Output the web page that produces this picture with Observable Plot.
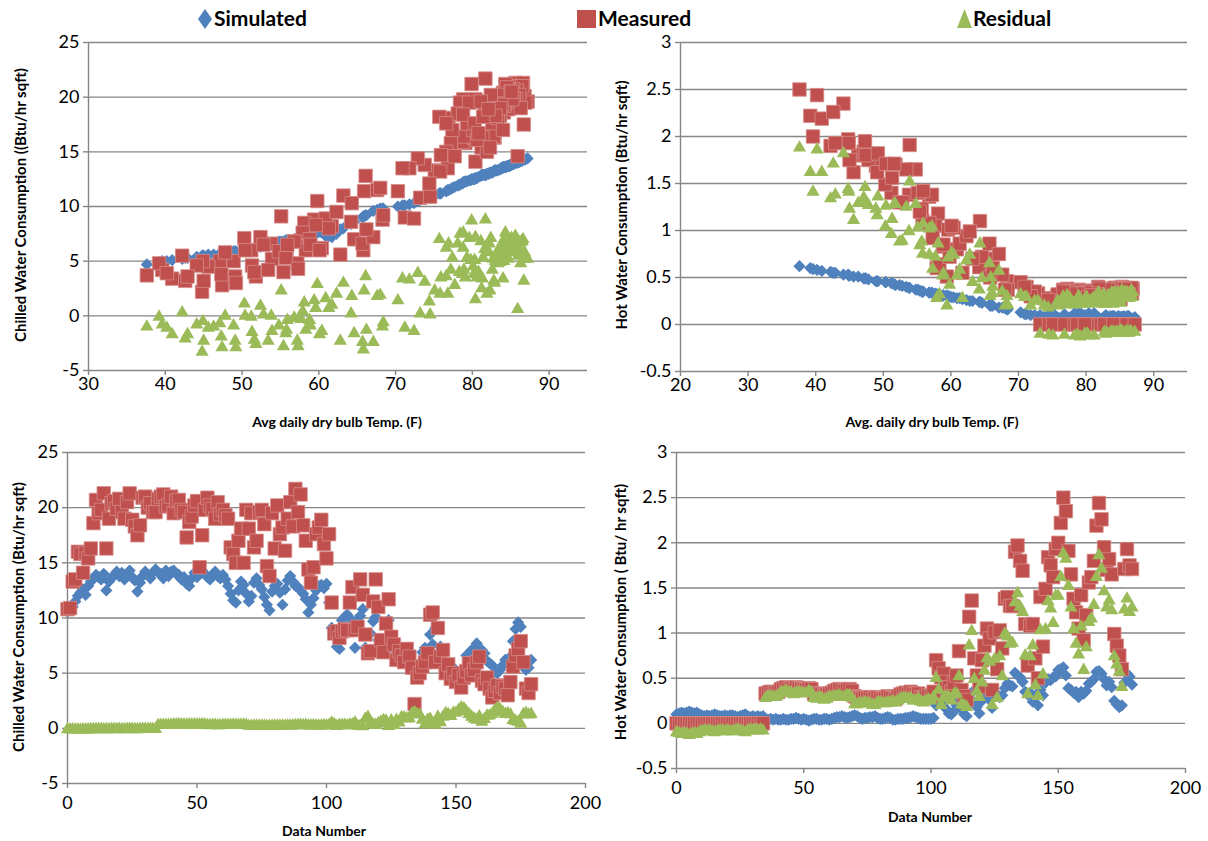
<!DOCTYPE html>
<html><head><meta charset="utf-8">
<script src="https://cdn.jsdelivr.net/npm/d3@7"></script>
<script src="https://cdn.jsdelivr.net/npm/@observablehq/plot@0.6"></script>
<style>
body{margin:0;background:#fff;}
#root{position:relative;width:1208px;height:841px;overflow:hidden;font-family:Lato,sans-serif;color:#000;}
.xt{position:absolute;font-weight:bold;font-size:14px;transform:translate(-50%,-50%);white-space:nowrap;}
.yt{position:absolute;font-weight:bold;font-size:15px;transform:translate(-50%,-50%) rotate(-90deg);white-space:nowrap;}
.legtxt{position:absolute;font-weight:bold;font-size:21px;line-height:16px;height:16px;white-space:nowrap;}
.legsym{position:absolute;}
</style></head>
<body><div id="root"></div>
<script>
// ---- data (one value per day, index = Data Number) ----
const avgTemp = [
73.2,74.5,75.1,76.8,78.3,79.1,80.4,78.7,81.2,82.9,
84.1,85.3,84.8,83.7,85.6,80.2,83.1,84.4,85.2,86.3,
85.0,86.1,83.9,85.4,86.6,84.7,83.6,79.8,82.7,85.1,
86.4,85.2,84.0,86.0,87.2,86.2,85.5,84.3,86.8,84.9,
86.5,86.9,85.8,85.3,83.8,84.6,82.6,81.8,84.2,86.1,
84.8,85.9,86.7,85.7,84.5,83.9,85.4,86.3,85.0,84.1,
85.2,83.8,81.6,78.9,77.2,76.6,80.1,83.3,81.9,78.8,
76.9,78.4,82.8,84.0,82.2,80.4,78.1,75.9,73.8,79.6,
81.3,82.4,79.3,75.7,80.6,83.6,85.1,83.0,81.7,81.1,
79.9,78.8,77.4,72.9,75.8,77.7,80.3,81.4,82.1,80.8,
82.3,76.6,65.9,64.2,59.4,61.7,68.3,71.2,72.4,70.3,
66.1,60.9,68.4,71.8,74.4,58.1,56.8,64.6,67.6,70.9,
63.2,61.3,57.7,62.3,68.0,59.6,57.9,60.4,58.8,53.8,
51.2,52.4,52.8,42.2,44.8,46.3,48.9,55.8,58.3,56.8,
64.3,59.8,65.8,55.1,58.9,50.3,47.1,47.8,45.6,44.9,
39.6,39.2,37.6,44.1,53.9,54.8,57.2,55.7,60.1,55.9,
57.3,55.4,51.3,49.1,47.4,40.9,40.2,42.6,47.3,51.8,
49.2,53.4,62.8,65.7,67.1,66.2,50.4,42.9,45.0,51.6];

const chwSimulated = [
10.6,10.8,11.0,11.5,12.0,12.3,12.6,12.1,12.9,13.3,
13.6,13.9,13.7,13.5,14.0,12.5,13.3,13.6,13.9,14.2,
13.8,14.1,13.5,13.9,14.3,13.7,13.4,12.4,13.2,13.8,
14.2,13.9,13.6,14.1,14.4,14.1,14.0,13.6,14.3,13.8,
14.2,14.3,14.0,13.9,13.5,13.7,13.1,12.9,13.6,14.1,
13.7,14.0,14.3,14.0,13.7,13.5,13.9,14.2,13.8,13.6,
13.9,13.5,12.9,12.2,11.6,11.4,12.5,13.3,13.0,12.2,
11.5,12.0,13.2,13.6,13.0,12.6,11.9,11.2,10.7,12.4,
12.9,13.1,12.3,11.2,12.6,13.4,13.8,13.3,12.9,12.8,
12.5,12.2,11.7,10.5,11.2,11.8,12.5,12.9,13.0,12.7,
13.1,11.4,9.1,8.4,7.4,7.2,9.8,10.1,10.3,10.0,
9.2,7.3,9.8,10.2,10.8,7.3,7.0,8.6,9.7,10.1,
8.0,7.3,7.2,7.5,9.8,7.6,7.2,7.6,7.4,6.6,
6.1,6.3,6.4,5.2,5.5,5.6,5.9,6.9,7.3,7.0,
8.5,7.6,9.1,6.8,7.4,6.0,5.7,5.8,5.6,5.5,
5.0,4.9,4.7,5.4,6.6,6.8,7.1,6.9,7.7,6.9,
7.1,6.8,6.1,5.9,5.7,5.1,5.0,5.3,5.7,6.2,
5.9,6.5,7.9,9.0,9.6,9.2,6.0,5.3,5.5,6.2];

const chwMeasured = [
10.8,10.9,13.3,13.5,16.0,15.8,14.1,15.9,15.4,16.3,
18.6,20.7,19.5,19.8,21.3,16.3,19.0,20.4,20.6,19.9,
20.8,19.6,19.0,20.5,21.3,18.9,18.3,17.5,18.4,20.9,
21.0,20.0,20.4,19.6,19.6,20.8,21.0,21.2,20.1,20.2,
21.0,19.5,20.6,20.7,19.8,19.6,17.3,18.7,19.2,20.2,
20.6,14.6,17.5,19.8,20.9,20.2,19.9,19.0,20.5,19.4,
19.8,19.3,19.0,16.4,15.8,15.0,17.0,18.1,15.0,19.8,
18.1,19.5,16.4,17.0,19.6,19.8,18.5,14.7,13.8,19.5,
16.3,20.2,17.6,18.2,16.1,19.0,20.5,18.3,21.7,19.6,
21.2,18.4,17.0,14.4,13.2,14.6,17.6,18.2,18.9,16.7,
15.4,17.6,11.4,8.6,8.8,8.2,8.8,9.0,8.9,11.4,
12.8,8.9,9.2,13.5,12.1,8.5,6.8,7.0,11.5,13.5,
11.0,8.0,6.9,9.5,11.7,8.3,7.6,6.2,7.0,6.6,
6.0,7.2,6.5,5.5,2.2,4.6,5.0,5.6,6.0,6.8,
10.3,10.5,6.0,9.1,6.5,7.1,5.0,5.8,4.5,5.0,
4.2,4.8,3.7,4.6,5.2,5.9,4.8,5.3,6.0,6.5,
4.3,4.0,4.6,3.6,2.8,3.4,3.9,3.2,3.8,3.6,
3.0,4.2,5.6,6.6,7.2,7.9,6.0,3.6,3.2,4.0];

const chwResidual = [
0.2,0.1,2.3,2.0,4.0,3.5,1.5,3.8,2.5,3.0,
5.0,6.8,5.8,6.3,7.3,3.8,5.7,6.8,6.7,5.7,
7.0,5.5,5.5,6.6,7.0,5.2,4.9,5.1,5.2,7.1,
6.8,6.1,6.8,5.5,5.2,6.7,7.0,7.6,5.8,6.4,
6.8,5.2,6.6,6.8,6.3,5.9,4.2,5.8,5.6,6.1,
6.9,0.6,3.2,5.8,7.2,6.7,6.0,4.8,6.7,5.8,
5.9,5.8,6.1,4.2,4.2,3.6,4.5,4.8,2.0,7.6,
6.6,7.5,3.2,3.4,6.6,7.2,6.6,3.5,3.1,7.1,
3.4,7.1,5.3,7.0,3.5,5.6,6.7,5.0,8.8,6.8,
8.7,6.2,5.3,3.9,2.0,2.8,5.1,5.3,5.9,4.0,
2.3,6.2,2.3,0.2,1.4,1.0,-1.0,-1.1,-1.4,1.4,
3.6,1.6,-0.6,3.3,1.3,1.2,-0.2,-1.6,1.8,3.4,
3.0,0.7,-0.3,2.0,1.9,0.7,0.4,-1.4,-0.4,0.0,
-0.1,0.9,0.1,0.3,-3.3,-1.0,-0.9,-1.3,-1.3,-0.2,
1.8,2.9,-3.1,2.3,-0.9,1.1,-0.7,0.0,-1.1,-0.5,
-0.8,-0.1,-1.0,-0.8,-1.4,-0.9,-2.3,-1.6,-1.7,-0.4,
-2.8,-2.8,-1.5,-2.3,-2.9,-1.7,-1.1,-2.1,-1.9,-2.6,
-2.9,-2.3,-2.3,-2.4,-2.4,-1.3,0.0,-1.7,-2.3,-2.2];

const hwSimulated = [
0.10,0.11,0.12,0.11,0.12,0.13,0.12,0.11,0.12,0.10,
0.09,0.08,0.09,0.08,0.09,0.10,0.09,0.08,0.08,0.09,
0.08,0.09,0.09,0.08,0.07,0.08,0.09,0.10,0.08,0.07,
0.08,0.07,0.08,0.07,0.08,0.05,0.04,0.05,0.04,0.05,
0.04,0.04,0.05,0.04,0.04,0.05,0.05,0.06,0.05,0.04,
0.05,0.04,0.03,0.04,0.05,0.05,0.04,0.04,0.05,0.05,
0.04,0.05,0.06,0.07,0.07,0.08,0.07,0.06,0.07,0.08,
0.09,0.08,0.06,0.05,0.06,0.06,0.07,0.07,0.08,0.06,
0.05,0.05,0.06,0.07,0.06,0.04,0.04,0.05,0.05,0.05,
0.06,0.06,0.07,0.08,0.07,0.06,0.05,0.05,0.05,0.05,
0.05,0.06,0.20,0.24,0.31,0.27,0.16,0.11,0.10,0.13,
0.20,0.28,0.16,0.10,0.08,0.32,0.34,0.23,0.18,0.11,
0.25,0.28,0.33,0.26,0.17,0.30,0.32,0.29,0.31,0.39,
0.44,0.42,0.41,0.56,0.53,0.51,0.46,0.35,0.32,0.34,
0.24,0.30,0.20,0.37,0.31,0.45,0.49,0.48,0.51,0.52,
0.59,0.60,0.62,0.53,0.39,0.37,0.34,0.35,0.29,0.35,
0.33,0.36,0.44,0.46,0.49,0.57,0.58,0.55,0.49,0.42,
0.46,0.40,0.25,0.21,0.18,0.20,0.45,0.55,0.52,0.43];

const hwMeasured = [
0,0,0,0,0,0,0,0,0,0,
0,0,0,0,0,0,0,0,0,0,
0,0,0,0,0,0,0,0,0,0,
0,0,0,0,0,0.33,0.34,0.35,0.33,0.34,
0.35,0.38,0.39,0.40,0.38,0.39,0.37,0.40,0.39,0.38,
0.38,0.37,0.39,0.38,0.33,0.32,0.33,0.32,0.31,0.32,
0.33,0.34,0.36,0.37,0.38,0.37,0.36,0.37,0.38,0.36,
0.30,0.29,0.28,0.27,0.29,0.28,0.29,0.27,0.28,0.29,
0.28,0.27,0.28,0.30,0.29,0.28,0.27,0.30,0.32,0.33,
0.34,0.33,0.35,0.33,0.32,0.33,0.29,0.28,0.30,0.31,
0.30,0.35,0.70,0.61,0.51,0.55,0.46,0.40,0.35,0.45,
0.53,0.80,0.37,0.30,0.26,1.18,1.36,0.72,0.53,0.40,
0.70,0.86,1.05,0.94,0.37,1.01,0.60,1.03,0.83,1.38,
1.40,1.30,1.30,1.90,1.97,1.80,1.69,1.10,0.64,1.08,
1.10,0.72,0.50,1.40,0.85,1.49,1.84,1.75,1.62,1.93,
2.00,2.22,2.50,2.35,1.91,1.65,1.38,1.23,1.05,1.42,
0.92,1.20,1.56,1.62,1.80,2.19,2.44,2.26,1.95,1.70,
1.82,1.65,0.99,0.86,0.75,0.60,1.71,1.93,1.75,1.71];

const hwResidual = [
-0.10,-0.11,-0.12,-0.11,-0.12,-0.13,-0.12,-0.11,-0.12,-0.10,
-0.09,-0.08,-0.09,-0.08,-0.09,-0.10,-0.09,-0.08,-0.08,-0.09,
-0.08,-0.09,-0.09,-0.08,-0.07,-0.08,-0.09,-0.10,-0.08,-0.07,
-0.08,-0.07,-0.08,-0.07,-0.08,0.28,0.30,0.30,0.29,0.29,
0.31,0.34,0.34,0.36,0.34,0.34,0.32,0.34,0.34,0.34,
0.33,0.33,0.36,0.34,0.28,0.27,0.29,0.28,0.26,0.27,
0.29,0.29,0.30,0.30,0.31,0.29,0.29,0.31,0.31,0.28,
0.21,0.21,0.22,0.22,0.23,0.22,0.22,0.20,0.20,0.23,
0.23,0.22,0.22,0.23,0.23,0.24,0.23,0.25,0.27,0.28,
0.28,0.27,0.28,0.25,0.25,0.27,0.24,0.23,0.25,0.26,
0.25,0.29,0.50,0.37,0.20,0.28,0.30,0.29,0.25,0.32,
0.33,0.52,0.21,0.20,0.18,0.86,1.02,0.49,0.35,0.29,
0.45,0.58,0.72,0.68,0.20,0.71,0.28,0.74,0.52,0.99,
0.96,0.88,0.89,1.34,1.44,1.29,1.23,0.75,0.32,0.74,
0.86,0.42,0.30,1.03,0.54,1.04,1.35,1.27,1.11,1.41,
1.41,1.62,1.88,1.82,1.52,1.28,1.04,0.88,0.76,1.07,
0.59,0.84,1.12,1.16,1.31,1.62,1.86,1.71,1.46,1.28,
1.36,1.25,0.74,0.65,0.57,0.40,1.26,1.38,1.23,1.28];

// ---- ticks / labels ----
const seriesNames = ["Simulated", "Measured", "Residual"];
const tempTicksChw = [30,40,50,60,70,80,90];
const tempTicksHw = [20,30,40,50,60,70,80,90];
const dataNumberTicks = [0,50,100,150,200];
const chwTicks = [-5,0,5,10,15,20,25];
const hwTicks = [-0.5,0,0.5,1,1.5,2,2.5,3];

const BLUE = "#4F81BD", RED = "#C0504D", GREEN = "#9BBB59", GRID = "#868686";
const root = document.getElementById("root");

function panel(o) {
  const mL = 80, mT = 12, mR = 12, mB = 40;
  const xs = o.x;
  const svg = Plot.plot({
    width: o.px1 - o.px0 + mL + mR,
    height: o.py1 - o.py0 + mT + mB,
    marginLeft: mL, marginTop: mT, marginRight: mR, marginBottom: mB,
    style: {fontFamily: "Lato, sans-serif", fontSize: "18px", color: "#000", background: "transparent", overflow: "visible"},
    x: {domain: o.xDomain},
    y: {domain: o.yDomain},
    marks: [
      Plot.gridY(o.yTicks, {stroke: GRID, strokeOpacity: 1, strokeWidth: 1.4}),
      Plot.ruleX([o.xDomain[0]], {stroke: GRID, strokeWidth: 1.4}),
      Plot.axisY(o.yTicks, {tickSize: 5, tickPadding: 4, stroke: GRID, strokeWidth: 1.4, tickFormat: d => String(d), label: null}),
      Plot.axisX(o.xTicks, {tickSize: 5, tickPadding: o.xPad, stroke: GRID, strokeWidth: 1.4, tickFormat: d => String(d), label: null}),
      Plot.dot(o.sim, {x: (d, i) => xs(i), y: d => d, symbol: "diamond2", r: 5.5, fill: BLUE, stroke: "none"}),
      Plot.dot(o.meas, {x: (d, i) => xs(i), y: d => d, symbol: "square", r: 7.6, fill: RED, stroke: "#D68B89", strokeWidth: 0.8}),
      Plot.dot(o.res, {x: (d, i) => xs(i), y: d => d, symbol: "triangle", r: 4.9, fill: GREEN, stroke: "none"})
    ]
  });
  svg.style.position = "absolute";
  svg.style.left = (o.px0 - mL) + "px";
  svg.style.top = (o.py0 - mT) + "px";
  root.appendChild(svg);
}

const byTemp = i => avgTemp[i];
const byIndex = i => i;

panel({px0: 88, px1: 587, py0: 42, py1: 370, xDomain: [30, 95], yDomain: [-5, 25], xTicks: tempTicksChw, yTicks: chwTicks, xPad: 2,
  x: byTemp, sim: chwSimulated, meas: chwMeasured, res: chwResidual});
panel({px0: 680, px1: 1187, py0: 42, py1: 371, xDomain: [20, 95], yDomain: [-0.5, 3], xTicks: tempTicksHw, yTicks: hwTicks, xPad: 2,
  x: byTemp, sim: hwSimulated, meas: hwMeasured, res: hwResidual});
panel({px0: 67, px1: 585, py0: 452, py1: 783, xDomain: [0, 200], yDomain: [-5, 25], xTicks: dataNumberTicks, yTicks: chwTicks, xPad: 8,
  x: byIndex, sim: chwSimulated, meas: chwMeasured, res: hwResidual});
panel({px0: 676, px1: 1185, py0: 452, py1: 768, xDomain: [0, 200], yDomain: [-0.5, 3], xTicks: dataNumberTicks, yTicks: hwTicks, xPad: 8,
  x: byIndex, sim: hwSimulated, meas: hwMeasured, res: hwResidual});

function text(cls, str, x, y) {
  const d = document.createElement("div");
  d.className = cls; d.textContent = str;
  d.style.left = x + "px"; d.style.top = y + "px";
  root.appendChild(d);
}
text("xt", "Avg daily dry bulb Temp. (F)", 337, 421);
text("xt", "Avg. daily dry bulb Temp. (F)", 932, 421);
text("xt", "Data Number", 324, 830);
text("xt", "Data Number", 930, 816);
text("yt", "Chilled Water Consumption ((Btu/hr sqft)", 20, 205);
text("yt", "Hot Water Consumption (Btu/hr sqft)", 621, 205);
text("yt", "Chilled Water Consumption (Btu/hr sqft)", 18, 617);
text("yt", "Hot Water Consumption ( Btu/ hr sqft)", 620, 612);

// legend
function legSym(svgInner, x, y, w, h) {
  const ns = "http://www.w3.org/2000/svg";
  const s = document.createElementNS(ns, "svg");
  s.setAttribute("width", w); s.setAttribute("height", h);
  s.setAttribute("class", "legsym");
  s.style.left = x + "px"; s.style.top = y + "px";
  s.innerHTML = svgInner;
  root.appendChild(s);
}
legSym(`<polygon points="7,0 14,10 7,20 0,10" fill="${BLUE}"/>`, 198, 9, 14, 20);
text("legtxt", seriesNames[0], 214, 10);
legSym(`<rect x="0" y="0" width="19" height="18" fill="${RED}"/>`, 577, 10, 19, 18);
text("legtxt", seriesNames[1], 598, 10);
legSym(`<polygon points="7.5,0 15,19 0,19" fill="${GREEN}"/>`, 957, 9, 15, 19);
text("legtxt", seriesNames[2], 973, 10);
</script>
</body></html>
